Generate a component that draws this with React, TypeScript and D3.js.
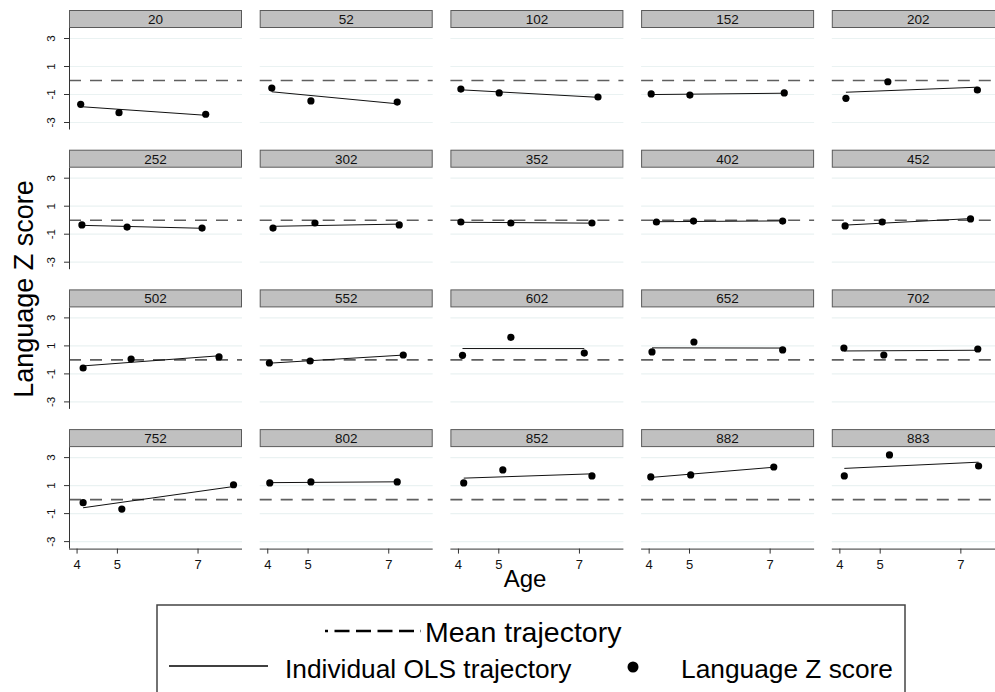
import * as d3 from 'd3';
import * as React from 'react';

const width = 995;
const height = 692;

// child ids, one panel each (row by row)
const ids = [
  '20', '52', '102', '152', '202',
  '252', '302', '352', '402', '452',
  '502', '552', '602', '652', '702',
  '752', '802', '852', '882', '883',
];

// age at each of the three assessments
const ages = [
  [4.09, 5.04, 7.19], [4.1, 5.07, 7.21], [4.06, 5.01, 7.46], [4.05, 5.01, 7.35], [4.15, 5.19, 7.41],
  [4.12, 5.24, 7.1], [4.13, 5.17, 7.26], [4.06, 5.3, 7.31], [4.18, 5.1, 7.31], [4.13, 5.05, 7.24],
  [4.15, 5.34, 7.52], [4.04, 5.05, 7.36], [4.1, 5.3, 7.12], [4.07, 5.11, 7.31], [4.1, 5.09, 7.42],
  [4.15, 5.11, 7.88], [4.05, 5.07, 7.21], [4.13, 5.1, 7.31], [4.04, 5.03, 7.09], [4.11, 5.23, 7.44],
];

// language z score at each assessment
const scores = [
  [-1.7, -2.3, -2.41], [-0.54, -1.46, -1.54], [-0.61, -0.89, -1.18], [-0.96, -1.04, -0.89], [-1.27, -0.09, -0.68],
  [-0.34, -0.49, -0.56], [-0.56, -0.2, -0.34], [-0.13, -0.2, -0.2], [-0.13, -0.06, -0.06], [-0.41, -0.13, 0.09],
  [-0.58, 0.06, 0.21], [-0.22, -0.08, 0.35], [0.33, 1.61, 0.49], [0.57, 1.28, 0.71], [0.85, 0.35, 0.78],
  [-0.22, -0.68, 1.06], [1.19, 1.26, 1.26], [1.19, 2.12, 1.69], [1.62, 1.76, 2.33], [1.69, 3.19, 2.4],
];

const meanTrajectory = 0;
const yTicks = [3, 1, -1, -3];
const xTicks = [4, 5, 7];

const nCols = 5;
const panelX0 = 69;
const colStep = 190.7;
const panelW = 173;
const headerY0 = 10;
const rowStep = 139.7;
const headerH = 18;
const plotH = 101.5;

const font = "'Liberation Sans', Arial, Helvetica, sans-serif";

// least squares fit through a child's three points
const ols = (xs: number[], ys: number[]) => {
  const mx = d3.mean(xs) as number;
  const my = d3.mean(ys) as number;
  const sxy = d3.sum(xs, (x, i) => (x - mx) * (ys[i] - my));
  const sxx = d3.sum(xs, x => (x - mx) * (x - mx));
  const b = sxy / sxx;
  return (x: number) => my + b * (x - mx);
};

export default () => {
  const x = d3.scaleLinear().domain([3.8, 8.09]).range([0, panelW]);
  const y = d3.scaleLinear().domain([-3.5, 3.75]).range([plotH, 0]);
  const nRows = Math.ceil(ids.length / nCols);
  const line = d3.line<[number, number]>().x(d => x(d[0])).y(d => y(d[1]));

  return (
    <svg
      width={width}
      height={height}
      style={{ position: 'absolute', left: 0, top: 0, background: '#fff' }}
      fontFamily={font}
    >
      {ids.map((id, i) => {
        const col = i % nCols;
        const row = Math.floor(i / nCols);
        const px = panelX0 + col * colStep;
        const py = headerY0 + row * rowStep;
        const xs = ages[i];
        const ys = scores[i];
        const fit = ols(xs, ys);
        const x0 = d3.min(xs) as number;
        const x1 = d3.max(xs) as number;
        const isBottom = row === nRows - 1;
        return (
          <g key={id} transform={`translate(${px},${py})`}>
            <rect
              x={0.5}
              y={0.5}
              width={panelW - 1}
              height={headerH - 1}
              fill="#c0c0c0"
              stroke="#5a5a5a"
              strokeWidth={1}
            />
            <text x={panelW / 2} y={headerH / 2 + 5} textAnchor="middle" fontSize={13.5} fill="#111">
              {id}
            </text>
            <g transform={`translate(0,${headerH})`}>
              {yTicks.map(t => (
                <line key={t} x1={0} x2={panelW} y1={y(t)} y2={y(t)} stroke="#eaf2f2" strokeWidth={1.2} />
              ))}
              <line
                x1={0}
                x2={panelW}
                y1={y(meanTrajectory)}
                y2={y(meanTrajectory)}
                stroke="#5f5f5f"
                strokeWidth={1.6}
                strokeDasharray="12,9"
              />
              <path
                d={line([[x0, fit(x0)], [x1, fit(x1)]]) || ''}
                fill="none"
                stroke="#111"
                strokeWidth={1}
              />
              {xs.map((a, j) => (
                <circle key={j} cx={x(a)} cy={y(ys[j])} r={3.6} fill="#000" />
              ))}
              {col === 0 && (
                <g>
                  <line x1={0.5} x2={0.5} y1={0} y2={plotH} stroke="#333" />
                  {yTicks.map(t => (
                    <g key={t} transform={`translate(0,${y(t)})`}>
                      <line x1={-5} x2={0} stroke="#333" />
                      <text
                        transform="translate(-14,0) rotate(-90)"
                        textAnchor="middle"
                        fontSize={11.5}
                        fill="#111"
                      >
                        {t}
                      </text>
                    </g>
                  ))}
                </g>
              )}
              {isBottom && (
                <g transform={`translate(0,${plotH})`}>
                  <line x1={0} x2={panelW} y1={0.5} y2={0.5} stroke="#333" />
                  {xTicks.map(t => (
                    <g key={t} transform={`translate(${x(t)},0)`}>
                      <line y1={0} y2={5} stroke="#333" />
                      <text y={20} textAnchor="middle" fontSize={13} fill="#111">
                        {t}
                      </text>
                    </g>
                  ))}
                </g>
              )}
            </g>
          </g>
        );
      })}

      <text
        transform="translate(33,289) rotate(-90)"
        textAnchor="middle"
        fontSize={27}
        fill="#000"
      >
        Language Z score
      </text>
      <text x={525} y={587} textAnchor="middle" fontSize={24} fill="#000">
        Age
      </text>

      <g>
        <rect x={157} y={605} width={748} height={120} fill="none" stroke="#444" strokeWidth={1.5} />
        <line
          x1={325}
          x2={421}
          y1={631}
          y2={631}
          stroke="#000"
          strokeWidth={2.5}
          strokeDasharray="15,6.5"
          strokeDashoffset={12}
        />
        <text x={425} y={642} fontSize={28.5} fill="#000">
          Mean trajectory
        </text>
        <line x1={169} x2={268} y1={666} y2={666} stroke="#000" strokeWidth={1.5} />
        <text x={285} y={678} fontSize={26.3} fill="#000">
          Individual OLS trajectory
        </text>
        <circle cx={633} cy={667} r={5.5} fill="#000" />
        <text x={681} y={678} fontSize={26.3} fill="#000">
          Language Z score
        </text>
      </g>
    </svg>
  );
};
